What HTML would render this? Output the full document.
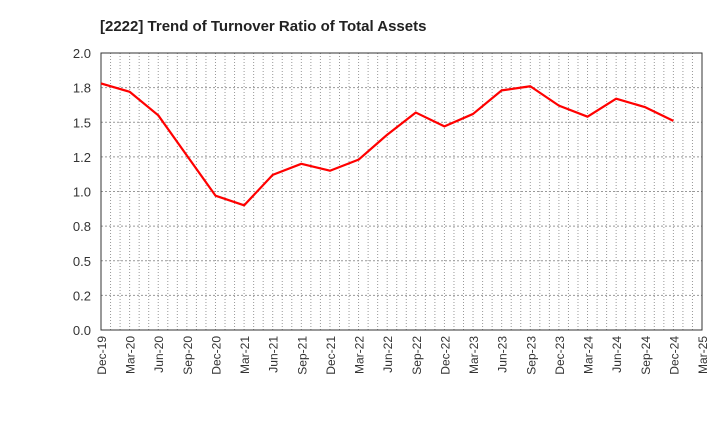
<!DOCTYPE html>
<html><head><meta charset="utf-8"><style>
body{margin:0;background:#fff;}
svg text{font-family:"Liberation Sans",Arial,sans-serif;}
</style></head><body>
<svg id="chart" width="720" height="440">
<text x="100" y="31" font-size="15" font-weight="bold" fill="#222">[2222]  Trend of Turnover Ratio of Total Assets</text>
<g id="grid"></g><g id="axes"></g><g id="series"></g>
</svg>
<script>
const categories=["Dec-19","Mar-20","Jun-20","Sep-20","Dec-20","Mar-21","Jun-21","Sep-21","Dec-21","Mar-22","Jun-22","Sep-22","Dec-22","Mar-23","Jun-23","Sep-23","Dec-23","Mar-24","Jun-24","Sep-24","Dec-24","Mar-25"];
const values=[1.78,1.72,1.55,1.26,0.97,0.90,1.12,1.20,1.15,1.23,1.41,1.57,1.47,1.56,1.73,1.76,1.62,1.54,1.67,1.61,1.51];
const yTicks=[0,0.25,0.5,0.75,1.0,1.25,1.5,1.75,2.0];
const yTickLabels=["0.0","0.2","0.5","0.8","1.0","1.2","1.5","1.8","2.0"];
const L=101,R=702,T=53,B=330,yMax=2.0;
const NS="http://www.w3.org/2000/svg";
const xs=i=>L+(R-L)*i/(categories.length-1);
const ys=v=>B-(B-T)*v/yMax;
function mk(tag,attrs,parent){const e=document.createElementNS(NS,tag);for(const k in attrs)e.setAttribute(k,attrs[k]);document.getElementById(parent).appendChild(e);return e;}
const months=(categories.length-1)*3;
for(let m=1;m<months;m++){const x=L+(R-L)*m/months;
const g=mk("line",{x1:x,x2:x,y1:T,y2:B,stroke:"#999","stroke-dasharray":"1,2","stroke-width":1},"grid");

}
yTicks.forEach((t,i)=>{const y=ys(t);
if(t>0){const g=mk("line",{x1:L,x2:R,y1:y,y2:y,stroke:"#999","stroke-dasharray":"2,2","stroke-width":1},"grid");

}
const tx=mk("text",{x:L-10,y:y+5,"text-anchor":"end","font-size":"13",fill:"#333"},"axes");
tx.textContent=yTickLabels[i];

});
categories.forEach((c,i)=>{const x=xs(i);
const tx=mk("text",{transform:`translate(${x+5},${B+6}) rotate(-90)`,"text-anchor":"end","font-size":"12",fill:"#333"},"axes");
tx.textContent=c;

});
const box=mk("rect",{x:L,y:T,width:R-L,height:B-T,fill:"none",stroke:"#333","stroke-width":1},"axes");


const pts=values.map((v,i)=>xs(i)+","+ys(v)).join(" ");
const line=mk("polyline",{points:pts,fill:"none",stroke:"#f00","stroke-width":2.2,"stroke-linejoin":"round"},"series");


</script>
</body></html>
